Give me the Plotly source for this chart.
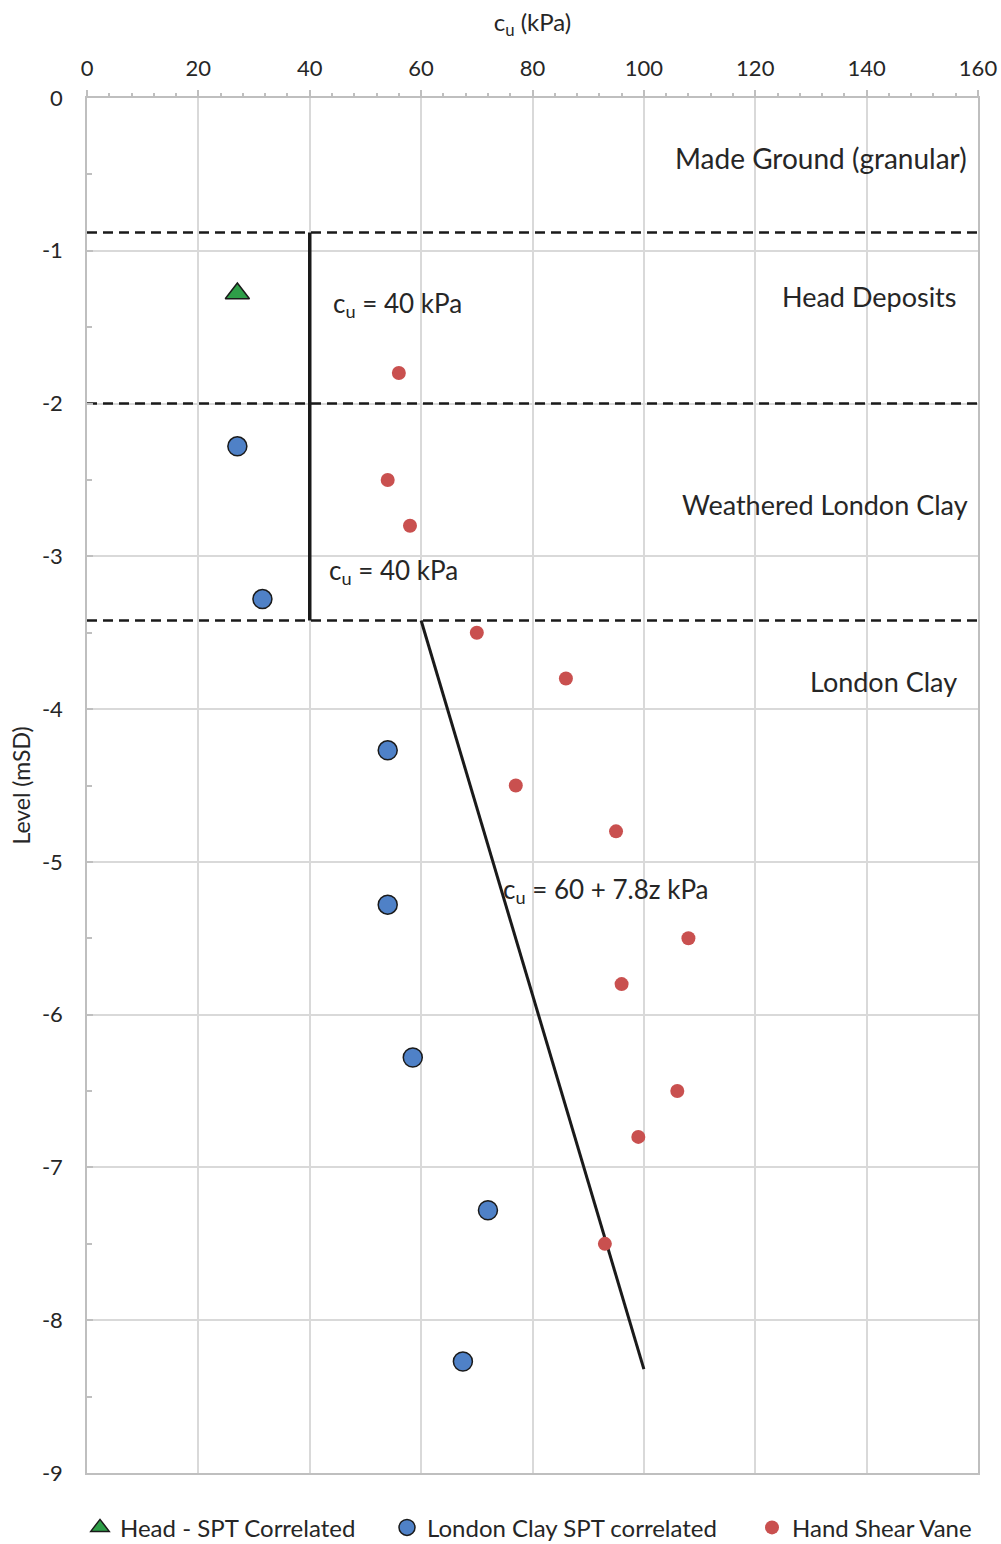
import plotly.graph_objects as go

# Head deposits - SPT correlated
head_cu = [27]
head_level = [-1.28]

# London Clay - SPT correlated
lc_cu = [27, 31.5, 54, 54, 58.5, 72, 67.5]
lc_level = [-2.28, -3.28, -4.27, -5.28, -6.28, -7.28, -8.27]

# Hand shear vane
hsv_cu = [56, 54, 58, 70, 86, 77, 95, 108, 96, 106, 99, 93]
hsv_level = [-1.8, -2.5, -2.8, -3.5, -3.8, -4.5, -4.8, -5.5, -5.8, -6.5, -6.8, -7.5]

# Stratum boundaries (mSD)
boundaries = [-0.88, -2.0, -3.42]

# Design lines
const_cu = [40, 40]
const_level = [-0.88, -3.42]
trend_cu = [60, 100]
trend_level = [-3.42, -8.32]

# Axis ticks
x_ticks = [0, 20, 40, 60, 80, 100, 120, 140, 160]
y_ticks = [0, -1, -2, -3, -4, -5, -6, -7, -8, -9]
y_ticktext = ["0", "-1", "-2", "-3", "-4", "-5", "-6", "-7", "-8", "-9"]

FONT = "Lato"
TXT = "#262626"
GRID = "#d9d9d9"
AXIS = "#bfbfbf"

fig = go.Figure()

for b in boundaries:
    fig.add_trace(go.Scatter(
        x=[0, 160], y=[b, b], mode="lines", showlegend=False, hoverinfo="skip",
        line=dict(color="#1a1a1a", width=2.5, dash="10px,6px")))

fig.add_trace(go.Scatter(
    x=const_cu, y=const_level, mode="lines", showlegend=False, hoverinfo="skip",
    line=dict(color="#1a1a1a", width=3.5)))
fig.add_trace(go.Scatter(
    x=trend_cu, y=trend_level, mode="lines", showlegend=False, hoverinfo="skip",
    line=dict(color="#1a1a1a", width=3)))

fig.add_trace(go.Scatter(
    x=head_cu, y=head_level, mode="markers", name="Head - SPT Correlated",
    legend="legend",
    marker=dict(symbol="triangle-up", size=21, color="#2e9e48",
                line=dict(color="#1a1a1a", width=1.5))))
fig.add_trace(go.Scatter(
    x=lc_cu, y=lc_level, mode="markers", name="London Clay SPT correlated",
    legend="legend2",
    marker=dict(symbol="circle", size=19, color="#4f81c7",
                line=dict(color="#1a1a1a", width=1.5))))
fig.add_trace(go.Scatter(
    x=hsv_cu, y=hsv_level, mode="markers", name="Hand Shear Vane",
    legend="legend3",
    marker=dict(symbol="circle", size=14, color="#c9504f")))

annotations = []
strata_pos = [(158.3, -0.39, "Made Ground (granular)", 28),
              (156.5, -1.30, "Head Deposits", 27),
              (158.5, -2.66, "Weathered London Clay", 27),
              (156.5, -3.82, "London Clay", 27)]
for xx, yy, t, fs in strata_pos:
    annotations.append(dict(x=xx, y=yy, text=t, showarrow=False, xanchor="right",
                            yanchor="middle", font=dict(family=FONT, size=fs, color=TXT)))

cu_labels = [(43.8, -1.35, "c<sub>u</sub> = 40 kPa"),
             (43.1, -3.10, "c<sub>u</sub> = 40 kPa"),
             (74.3, -5.19, "c<sub>u</sub> = 60 + 7.8z kPa")]
for xx, yy, t in cu_labels:
    annotations.append(dict(x=xx, y=yy, text=t, showarrow=False, xanchor="left",
                            yanchor="middle", font=dict(family=FONT, size=26, color=TXT)))

legend_style = dict(orientation="h", xref="container", yref="container",
                    xanchor="left", yanchor="middle", y=0.0105,
                    font=dict(family=FONT, size=24, color=TXT),
                    itemwidth=30, bgcolor="rgba(0,0,0,0)")

fig.update_layout(
    width=1001, height=1544,
    margin=dict(l=87, r=23, t=98, b=71, autoexpand=False),
    paper_bgcolor="white", plot_bgcolor="white",
    font=dict(family=FONT, color=TXT),
    annotations=annotations,
    showlegend=True,
    legend=dict(x=(101 - 21) / 1001, **legend_style),
    legend2=dict(x=(408 - 21) / 1001, **legend_style),
    legend3=dict(x=(773 - 21) / 1001, **legend_style),
    xaxis=dict(
        side="top", range=[0, 160], tickvals=x_ticks,
        showgrid=True, gridcolor=GRID, gridwidth=1.5,
        showline=True, linecolor=AXIS, linewidth=1.5, mirror=True,
        ticks="outside", ticklen=6, tickcolor=AXIS, tickwidth=1.5,
        minor=dict(dtick=4, tick0=0, ticks="outside", ticklen=3, tickcolor=AXIS,
                   showgrid=False),
        tickfont=dict(family=FONT, size=22, color=TXT),
        ticklabelstandoff=5,
        title=dict(text="c<sub>u</sub> (kPa)", font=dict(family=FONT, size=24, color=TXT),
                   standoff=16),
        zeroline=False, fixedrange=True, automargin=False),
    yaxis=dict(
        range=[-9, 0], tickvals=y_ticks, ticktext=y_ticktext,
        showgrid=True, gridcolor=GRID, gridwidth=1.5,
        showline=True, linecolor=AXIS, linewidth=1.5, mirror=True,
        ticks="inside", ticklen=6, tickcolor=AXIS, tickwidth=1.5,
        minor=dict(dtick=0.5, tick0=0, ticks="inside", ticklen=5, tickcolor=AXIS,
                   showgrid=False),
        tickfont=dict(family=FONT, size=22, color=TXT),
        ticklabelstandoff=18,
        title=dict(text="Level (mSD)", font=dict(family=FONT, size=23, color=TXT),
                   standoff=5),
        zeroline=False, fixedrange=True, automargin=False),
)

fig.write_html("out.html")
